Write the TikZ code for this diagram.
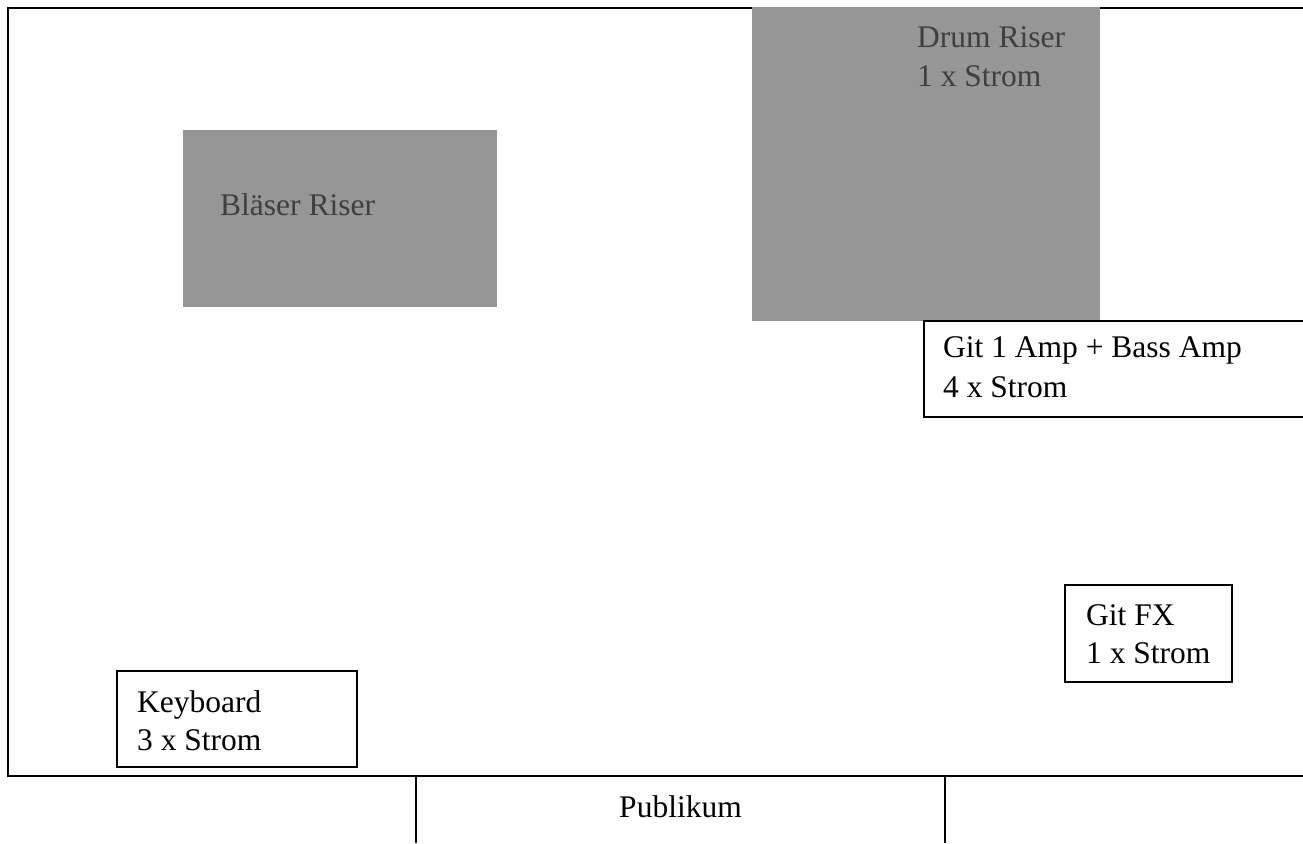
\documentclass[tikz,border=0pt]{standalone}
\usepackage{fontspec}
\setmainfont{Liberation Serif}
\begin{document}
\begin{tikzpicture}[x=1pt,y=-1pt,
  txt/.style={anchor=base west,inner sep=0pt,font=\fontsize{31.5}{38}\selectfont},
  rtxt/.style={txt,text=rtext},
  riser/.style={fill=riserfill,draw=none},
  box/.style={draw=black,line width=1.5pt,fill=white}]
\definecolor{riserfill}{HTML}{969696}
\definecolor{rtext}{HTML}{3F3F3F}
\useasboundingbox (0,0) rectangle (1303,843);
\clip (0,0) rectangle (1303,843);
% stage outline
\draw[line width=2pt] (1330,8) -- (8,8) -- (8,776) -- (1330,776);
% risers
\fill[riser] (183,130) rectangle (497,307);
\coordinate (blnw) at (183,130);
\fill[riser] (752,7) rectangle (1100,321);
\node[rtxt] (blaeser) at (220,215) {Bläser Riser};
\node[rtxt] (drum1) at (917,48) {Drum Riser};
\node[rtxt] (drum2) at (917,86) {1 x Strom};
% boxes
\draw[box] (924,321) rectangle (1330,417);
\node[txt] (amp1) at (943,357) {Git 1 Amp + Bass Amp};
\node[txt] (amp2) at (943,397) {4 x Strom};
\draw[box] (1065,585) rectangle (1232,682);
\node[txt] (fx1) at (1086,625) {Git FX};
\node[txt] (fx2) at (1086,663) {1 x Strom};
\draw[box] (117,671) rectangle (357,767);
\node[txt] (kb1) at (137,712) {Keyboard};
\node[txt] (kb2) at (137,750) {3 x Strom};
% Publikum
\draw[line width=1.5pt] (416,776) -- (416,843);
\draw[line width=1.5pt] (945,776) -- (945,843);
\node[txt,anchor=base] (pub) at (680.5,817) {Publikum};
\end{tikzpicture}
\end{document}
